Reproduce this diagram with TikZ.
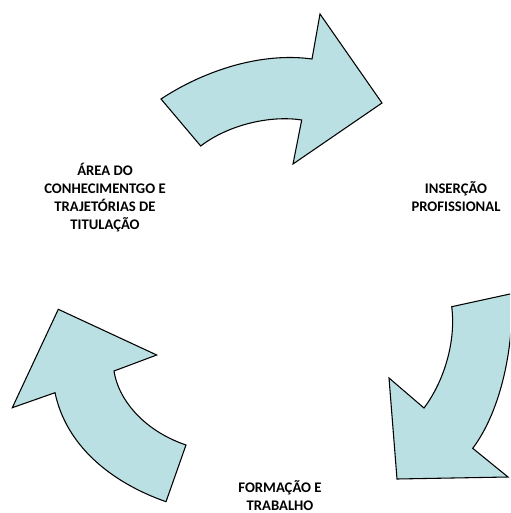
\documentclass[tikz,border=0pt]{standalone}
\usepackage{fontspec}
\setmainfont{Carlito}[BoldFont={* Bold}]
\usepackage{xcolor}
\usepackage{tikz}
\usetikzlibrary{positioning,calc}
\definecolor{arrowfill}{HTML}{BAE0E3}
\definecolor{dark}{HTML}{000000}

\begin{document}
\begin{tikzpicture}[x=0.75pt, y=-0.75pt,
    cyclearrow/.style={draw=dark, fill=arrowfill, line width=0.8pt, line join=miter},
    steplabel/.style={anchor=base, align=center, inner sep=0pt, text=dark,
        font=\fontsize{11}{13.5}\selectfont\bfseries}]
    \useasboundingbox (0,0) rectangle (510,513);
    \clip (0,0) rectangle (510,513);

    % Arrows
    \draw[cyclearrow] (161,99) .. controls (205,70) and (262,52) .. (312,59)
        -- (320,14) -- (382,103) -- (293,164) -- (301.7,120)
        .. controls (270,115) and (228,125) .. (200.7,146) -- cycle;
    \draw[cyclearrow] (511.8,293.6) -- (451.7,306.7)
        .. controls (456,340) and (445,380) .. (424,408)
        -- (389,378) -- (397,479) -- (508,477) -- (472.7,448.3)
        .. controls (498,415) and (514,355) .. (511.8,293.6) -- cycle;
    \draw[cyclearrow] (58.3,309.3) -- (156.7,355) -- (114,371)
        .. controls (118,398) and (142,430) .. (186,445)
        -- (166,501.7) .. controls (110,482) and (66,445) .. (55,392.7)
        -- (12.3,407.7) -- cycle;

    % Labels (base = last line)
    \node[steplabel] (area) at (105,229.5) {ÁREA DO\\CONHECIMENTGO E\\TRAJETÓRIAS DE\\TITULAÇÃO};
    \node[steplabel] (insercao) at (456,211.3) {INSERÇÃO\\PROFISSIONAL};
    \node[steplabel] (formacao) at (280,510) {FORMAÇÃO E\\TRABALHO};
\end{tikzpicture}
\end{document}
